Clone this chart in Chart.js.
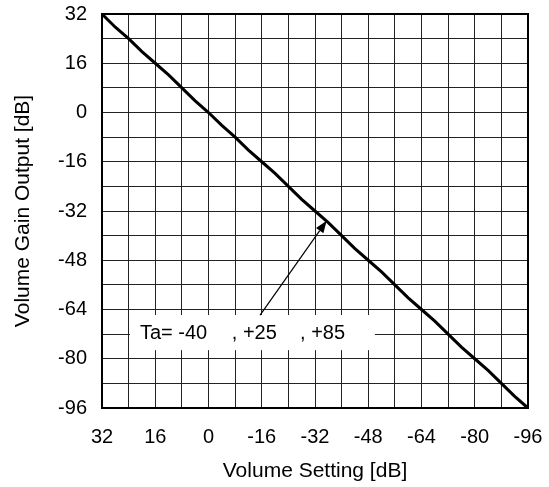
<!DOCTYPE html>
<html>
<head>
<meta charset="utf-8">
<script src="https://cdn.jsdelivr.net/npm/chart.js@4/dist/chart.umd.min.js"></script>
<style>
  html, body { margin: 0; padding: 0; background: #fff; }
  canvas { display: block; }
</style>
</head>
<body>
<canvas id="c" width="549" height="487"></canvas>
<script>
// Volume setting (dB) and the measured gain output (dB)
const volumeSetting = [32, 28, 24, 20, 16, 12, 8, 4, 0, -4, -8, -12, -16, -20, -24, -28, -32,
  -36, -40, -44, -48, -52, -56, -60, -64, -68, -72, -76, -80, -84, -88, -92, -96];
const gainOutput = [32, 27.7, 24, 19.8, 16, 12.2, 8, 3.8, 0, -4.2, -8, -12.2, -16, -19.8, -24, -28.2, -32,
  -35.8, -40, -44.2, -48, -51.8, -56, -60.2, -64, -67.8, -72, -76.2, -80, -83.8, -88, -92.2, -96];

// Axis range and grid/tick spacing (dB)
const axisMin = -96;
const axisMax = 32;
const gridStep = 8;
const labelStep = 16;

// Temperature callout
const calloutText = ['Ta= -40', ', +25', ', +85'];
const calloutTextX = [20.6, -7.0, -27.5];
const calloutBaselineY = -73.6;
const calloutBox = { x1: 23.6, x2: -50, y1: -65.8, y2: -77.2 };
const calloutArrow = { fromX: -15.5, fromY: -65.8, toX: -35.5, toY: -35.2 };

const FONT = "'Liberation Sans', Arial, Helvetica, sans-serif";

const frameAndCallout = {
  id: 'frameAndCallout',
  afterDatasetsDraw(chart) {
    const { ctx, chartArea: a, scales: { x, y } } = chart;
    ctx.save();
    // plot frame
    ctx.strokeStyle = '#000';
    ctx.lineWidth = 2;
    ctx.strokeRect(a.left, a.top, a.right - a.left, a.bottom - a.top);

    // callout box
    const bx1 = x.getPixelForValue(calloutBox.x1);
    const bx2 = x.getPixelForValue(calloutBox.x2);
    const by1 = y.getPixelForValue(calloutBox.y1);
    const by2 = y.getPixelForValue(calloutBox.y2);
    ctx.fillStyle = '#fff';
    ctx.fillRect(Math.min(bx1, bx2), Math.min(by1, by2), Math.abs(bx2 - bx1), Math.abs(by2 - by1));

    // callout text
    ctx.fillStyle = '#000';
    ctx.font = '20px ' + FONT;
    ctx.textBaseline = 'alphabetic';
    ctx.textAlign = 'left';
    const ty = y.getPixelForValue(calloutBaselineY);
    calloutText.forEach((t, i) => ctx.fillText(t, x.getPixelForValue(calloutTextX[i]), ty));

    // arrow
    const x0 = x.getPixelForValue(calloutArrow.fromX);
    const y0 = y.getPixelForValue(calloutArrow.fromY);
    const x1 = x.getPixelForValue(calloutArrow.toX);
    const y1 = y.getPixelForValue(calloutArrow.toY);
    const ang = Math.atan2(y1 - y0, x1 - x0);
    const headLen = 12, headHalf = 4.5;
    const hx = x1 - headLen * Math.cos(ang);
    const hy = y1 - headLen * Math.sin(ang);
    ctx.strokeStyle = '#000';
    ctx.lineWidth = 1.2;
    ctx.beginPath();
    ctx.moveTo(x0, y0);
    ctx.lineTo(hx, hy);
    ctx.stroke();
    ctx.beginPath();
    ctx.moveTo(x1, y1);
    ctx.lineTo(hx + headHalf * Math.sin(ang), hy - headHalf * Math.cos(ang));
    ctx.lineTo(hx - headHalf * Math.sin(ang), hy + headHalf * Math.cos(ang));
    ctx.closePath();
    ctx.fill();
    ctx.restore();
  }
};

const tickLabel = (v) => (v % labelStep === 0 ? String(v) : '');

new Chart(document.getElementById('c'), {
  type: 'line',
  data: {
    datasets: [{
      data: volumeSetting.map((v, i) => ({ x: v, y: gainOutput[i] })),
      borderColor: '#000',
      borderWidth: 3,
      pointRadius: 0,
      tension: 0,
      clip: false
    }]
  },
  options: {
    responsive: false,
    animation: false,
    devicePixelRatio: 1,
    layout: { padding: { top: 14, right: 21, bottom: 0, left: 0 } },
    plugins: { legend: { display: false }, tooltip: { enabled: false } },
    scales: {
      x: {
        type: 'linear',
        reverse: true,
        min: axisMin,
        max: axisMax,
        afterFit: (s) => { s.height = 79; s.paddingLeft = 0; s.paddingRight = 0; },
        ticks: {
          stepSize: gridStep,
          autoSkip: false,
          maxRotation: 0,
          padding: 17,
          color: '#000',
          font: { family: FONT, size: 20 },
          callback: tickLabel
        },
        grid: { color: '#222', lineWidth: 1, drawTicks: false },
        border: { color: '#000', width: 2 },
        title: {
          display: true,
          text: 'Volume Setting [dB]',
          color: '#000',
          font: { family: FONT, size: 21 },
          padding: { top: 0, bottom: 3 }
        }
      },
      y: {
        type: 'linear',
        min: axisMin,
        max: axisMax,
        afterFit: (s) => { s.width = 102; s.paddingTop = 0; s.paddingBottom = 0; },
        ticks: {
          stepSize: gridStep,
          autoSkip: false,
          padding: 15,
          color: '#000',
          font: { family: FONT, size: 20 },
          callback: tickLabel
        },
        grid: { color: '#222', lineWidth: 1, drawTicks: false },
        border: { color: '#000', width: 2 },
        title: {
          display: true,
          text: 'Volume Gain Output [dB]',
          color: '#000',
          font: { family: FONT, size: 21 },
          padding: { top: 11, bottom: 0 }
        }
      }
    }
  },
  plugins: [frameAndCallout]
});
</script>
</body>
</html>
